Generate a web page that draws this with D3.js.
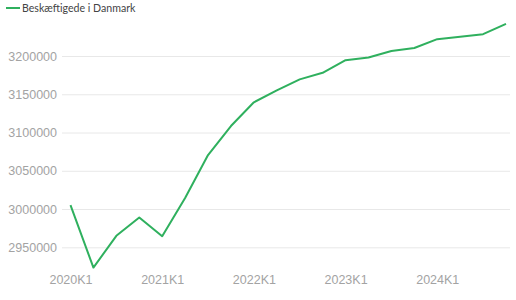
<!DOCTYPE html>
<html>
<head>
<meta charset="utf-8">
<script src="https://cdn.jsdelivr.net/npm/d3@7"></script>
<style>
  body { margin: 0; background: #fff; }
  svg { display: block; font-family: Lato, sans-serif; }
</style>
</head>
<body>
<svg id="chart" width="516" height="300"></svg>
<script>
// Quarters shown on the x axis
const quarters = [
  '2020K1', '2020K2', '2020K3', '2020K4',
  '2021K1', '2021K2', '2021K3', '2021K4',
  '2022K1', '2022K2', '2022K3', '2022K4',
  '2023K1', '2023K2', '2023K3', '2023K4',
  '2024K1', '2024K2', '2024K3', '2024K4',
];

// Employed persons in Denmark
const employed = [
  3005000, 2923500, 2965000, 2989000,
  2964500, 3014500, 3070500, 3108500,
  3139500, 3155000, 3169500, 3178000,
  3194500, 3198000, 3206500, 3210500,
  3222000, 3225000, 3228500, 3242000,
];

const seriesName = 'Beskæftigede i Danmark';
const yTicks = [2950000, 3000000, 3050000, 3100000, 3150000, 3200000];
const xTicks = ['2020K1', '2021K1', '2022K1', '2023K1', '2024K1'];

const svg = d3.select('#chart');
const green = '#2fb05e';

const x = d3.scalePoint()
  .domain(quarters)
  .range([70.5, 506]);

const y = d3.scaleLinear()
  .domain([2950000, 3200000])
  .range([247.3, 56]);

// horizontal grid + y labels
const yAxis = svg.append('g')
  .attr('transform', 'translate(62,0)')
  .call(d3.axisLeft(y).tickValues(yTicks).tickSize(-448).tickPadding(5)
    .tickFormat(d3.format('d')));
yAxis.select('.domain').remove();
yAxis.selectAll('.tick line').attr('stroke', '#e8e8e8');
yAxis.selectAll('.tick text')
  .attr('fill', '#a3a3a3')
  .style('font-size', '12.5px');

// x labels
const xAxis = svg.append('g')
  .attr('transform', 'translate(0,272)')
  .call(d3.axisBottom(x).tickValues(xTicks).tickSize(0).tickPadding(3));
xAxis.select('.domain').remove();
xAxis.selectAll('.tick text')
  .attr('fill', '#a3a3a3')
  .style('font-size', '12.5px');

// the line
const line = d3.line()
  .x((d, i) => x(quarters[i]))
  .y((d) => y(d));

svg.append('path')
  .datum(employed)
  .attr('fill', 'none')
  .attr('stroke', green)
  .attr('stroke-width', 2)
  .attr('stroke-linejoin', 'round')
  .attr('d', line);

// legend
const legend = svg.append('g').attr('transform', 'translate(6,8)');
legend.append('line')
  .attr('x1', 0).attr('x2', 14)
  .attr('stroke', green)
  .attr('stroke-width', 2);
legend.append('text')
  .attr('x', 16)
  .attr('dy', '0.35em')
  .attr('fill', '#444')
  .style('font-size', '10.6px')
  .text(seriesName);
</script>
</body>
</html>
